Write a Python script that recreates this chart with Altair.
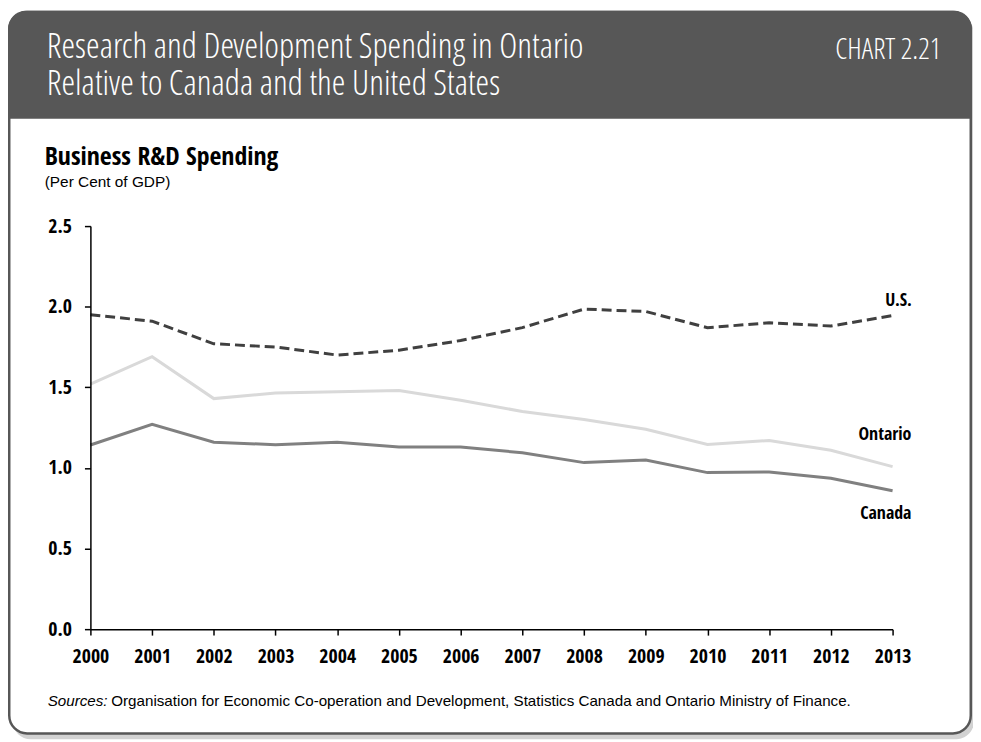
import altair as alt
import pandas as pd

years = list(range(2000, 2014))
us = [1.95, 1.91, 1.77, 1.75, 1.70, 1.73, 1.79, 1.87, 1.985, 1.97, 1.87, 1.90, 1.88, 1.945]
ontario = [1.52, 1.69, 1.43, 1.465, 1.473, 1.48, 1.42, 1.35, 1.30, 1.24, 1.146, 1.17, 1.11, 1.008]
canada = [1.142, 1.27, 1.159, 1.144, 1.159, 1.13, 1.13, 1.094, 1.033, 1.049, 0.971, 0.975, 0.936, 0.858]
y_ticks = [0.0, 0.5, 1.0, 1.5, 2.0, 2.5]

title_lines = ["Research and Development Spending in Ontario", "Relative to Canada and the United States"]
chart_no = "CHART 2.21"
sub_title = "Business R&D Spending"
sub_unit = "(Per Cent of GDP)"
src_italic = "Sources:"
src_text = "Organisation for Economic Co-operation and Development, Statistics Canada and Ontario Ministry of Finance."

RFONT = "Liberation Sans, Arial, sans-serif"
LFONT = "Open Sans Condensed Light, Liberation Sans, sans-serif"
BFONT = "Open Sans Condensed, Liberation Sans, sans-serif"
DARK = "#575757"

W, H = 808, 406
PL, PT = 83, 217
SVG_W, SVG_H = 972, 734

df = pd.DataFrame({"year": years, "us": us, "ontario": ontario, "canada": canada})

one = alt.Data(values=[{"k": 1}])

def vx(px):
    return px - (8 + PL)

def vy(py):
    return py - (8 + PT)

shadow = alt.Chart(one).mark_rect(color="#d2d2d2", cornerRadius=18).encode(
    x=alt.value(vx(13)), x2=alt.value(vx(981)), y=alt.value(vy(13)), y2=alt.value(vy(742))
)
frame = alt.Chart(one).mark_rect(fill="white", stroke=DARK, strokeWidth=2.5, cornerRadius=18).encode(
    x=alt.value(vx(9.25)), x2=alt.value(vx(977.75)), y=alt.value(vy(9.25)), y2=alt.value(vy(736))
)
header = alt.Chart(one).mark_rect(fill=DARK, cornerRadiusTopLeft=18, cornerRadiusTopRight=18).encode(
    x=alt.value(vx(8)), x2=alt.value(vx(979)), y=alt.value(vy(8)), y2=alt.value(vy(117))
)

def label(text, px, py, size, font, weight="normal", color="black", align="left", style="normal", lh=None):
    kw = dict(text=text, font=font, fontSize=size, fontWeight=weight, color=color,
              align=align, baseline="alphabetic", fontStyle=style)
    if lh is not None:
        kw["lineHeight"] = lh
    return alt.Chart(one).mark_text(**kw).encode(x=alt.value(vx(px)), y=alt.value(vy(py)))

title = label(title_lines, 47, 56, 35, LFONT, color="white", lh=37)
tc = label(chart_no, 948, 57, 29, LFONT, color="white", align="right")
s1 = label(sub_title, 45, 163, 26, BFONT, weight="bold")
s2 = label(sub_unit, 45, 186, 15.5, RFONT)
src1 = label(src_italic, 48, 708, 15.3, RFONT, style="italic")
src2 = label(src_text, 112, 708, 15.3, RFONT)

def axis_common():
    return dict(title=None, grid=False, tickSize=6, domainColor="black", tickColor="black",
                domainWidth=1.5, tickWidth=1.5, labelFont=BFONT, labelFontSize=20,
                labelFontWeight="bold", labelColor="black", zindex=2)

xenc = alt.X("year:Q", scale=alt.Scale(domain=[2000, 2013], nice=False, zero=False),
             axis=alt.Axis(values=years, format="d", labelPadding=12, labelFlush=False,
                           labelOverlap=False, **axis_common()))
def yenc(field):
    return alt.Y(f"{field}:Q", scale=alt.Scale(domain=[0, 2.5], nice=False),
                 axis=alt.Axis(values=y_ticks, format=".1f", labelPadding=13, **axis_common()))

base = alt.Chart(df)
l_on = base.mark_line(color="#d9d9d9", strokeWidth=3).encode(x=xenc, y=yenc("ontario"))
l_ca = base.mark_line(color="#808080", strokeWidth=3).encode(x=xenc, y=yenc("canada"))
l_us = base.mark_line(color="#404040", strokeWidth=3, strokeDash=[10, 5]).encode(x=xenc, y=yenc("us"))

last = df.tail(1)
def line_label(text, field, align, dx, dy):
    return alt.Chart(last).mark_text(text=text, font=BFONT, fontSize=18, fontWeight="bold", color="black",
                                     align=align, baseline="middle", dx=dx, dy=dy).encode(
        x=alt.X("year:Q"), y=alt.Y(f"{field}:Q"))

lab_us = line_label("U.S.", "us", "center", 6, -15)
lab_on = line_label("Ontario", "ontario", "right", 19, -32)
lab_ca = line_label("Canada", "canada", "right", 19, 23)

chart = alt.layer(
    shadow, frame, header, title, tc, s1, s2, src1, src2,
    l_on, l_ca, l_us, lab_us, lab_on, lab_ca
).resolve_scale(y="shared").properties(
    width=W, height=H,
    autosize=alt.AutoSizeParams(type="none"),
    padding={"left": PL, "top": PT, "right": SVG_W - PL - W, "bottom": SVG_H - PT - H},
    background="white",
).configure_view(stroke=None)

chart.save("out.html", embed_options={"renderer": "svg", "actions": False})
